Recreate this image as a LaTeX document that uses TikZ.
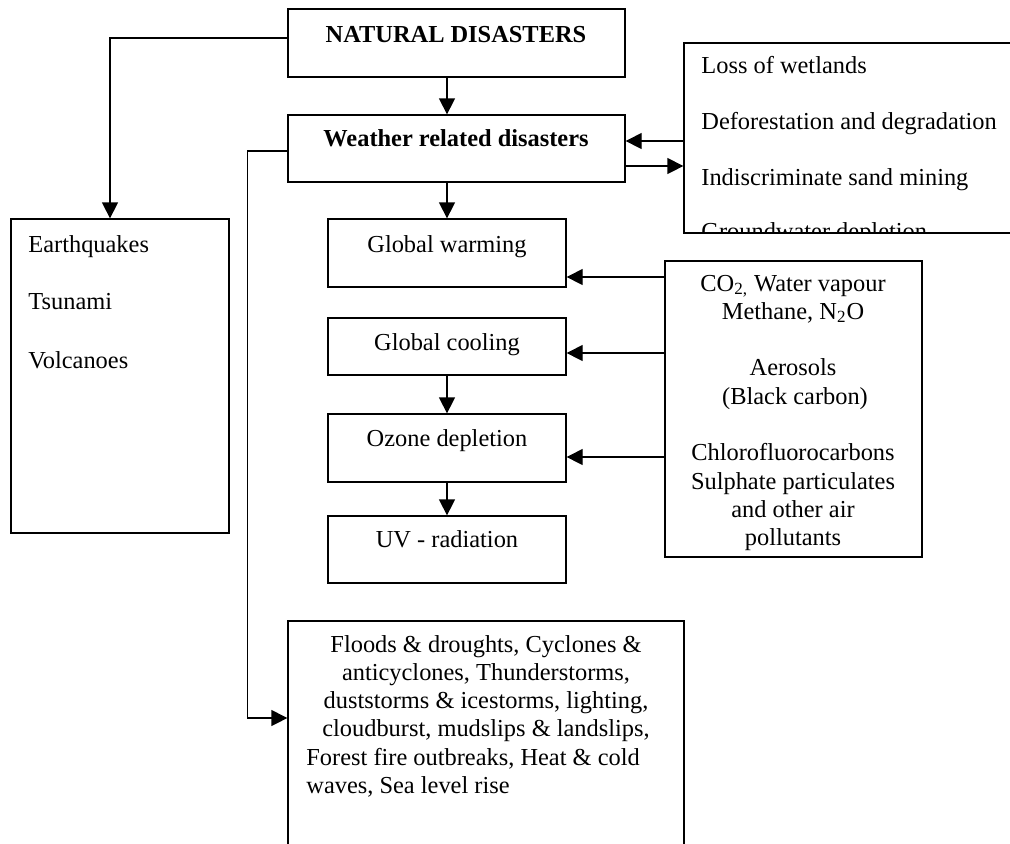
\documentclass[tikz,border=0pt]{standalone}
\usepackage{fontspec}
\setmainfont{Liberation Serif}
\usetikzlibrary{arrows.meta,fit}
\begin{document}
\begin{tikzpicture}[x=0.5pt,y=-0.5pt,
  box/.style={draw,line width=0.65pt,inner sep=0pt,rectangle},
  arr/.style={line width=0.65pt,-{Triangle[length=8pt,width=8pt]}},
  txt/.style={font=\fontsize{12.2}{14}\selectfont,inner sep=0pt,anchor=base},
  ltxt/.style={txt,anchor=base west},
  btxt/.style={txt,font=\fontsize{12.2}{14}\selectfont\bfseries},
]
\useasboundingbox (0,0) rectangle (1010,843);
\clip (0,0) rectangle (1010,843);

% boxes
\node[box,fit={(288,9)(625,77)}] (nat) {};
\node[box,fit={(288,115)(625,182)}] (wx) {};
\node[box,fit={(684,43)(1020,233)}] (rb) {};
\node[box,fit={(11,219)(229,533)}] (eq) {};
\node[box,fit={(328,219)(566,287)}] (gw) {};
\node[box,fit={(328,318)(566,375)}] (gc) {};
\node[box,fit={(328,414)(566,482)}] (oz) {};
\node[box,fit={(328,516)(566,583)}] (uv) {};
\node[box,fit={(665,261)(922,557)}] (co) {};
\node[box,fit={(288,621)(684,870)}] (fl) {};

% texts
\node[btxt] (natT) at (456,42) {NATURAL DISASTERS};
\node[btxt] (wxT) at (456,146) {Weather related disasters};

\node[ltxt] (rb1) at (701,73) {Loss of wetlands};
\node[ltxt] (rb2) at (701,129) {Deforestation and degradation};
\node[ltxt] (rb3) at (701,185) {Indiscriminate sand mining};
\begin{scope}
  \clip (684,43) rectangle (1020,233);
  \node[ltxt] (rb4) at (701,239) {Groundwater depletion};
\end{scope}

\node[ltxt] (eq1) at (28,252) {Earthquakes};
\node[ltxt] (eq2) at (28,309) {Tsunami};
\node[ltxt] (eq3) at (28,368) {Volcanoes};

\node[txt] (gwT) at (447,252) {Global warming};
\node[txt] (gcT) at (447,350) {Global cooling};
\node[txt] (ozT) at (447,446) {Ozone depletion};
\node[txt] (uvT) at (447,547) {UV - radiation};

\foreach \k/\t in {0/{CO\textsubscript{2,} Water vapour},1/{Methane, N\textsubscript{2}O},3/{Aerosols},4/{\,(Black carbon)},6/{Chlorofluorocarbons},7/{Sulphate particulates},8/{and other air},9/{pollutants}}
  \node[txt] (co\k) at (793,291+28.3*\k) {\t};

\foreach \k/\t in {0/{Floods \& droughts, Cyclones \&},1/{anticyclones, Thunderstorms,},2/{duststorms \& icestorms, lighting,},3/{cloudburst, mudslips \& landslips,}}
  \node[txt] (fl\k) at (486,652+28.3*\k) {\t};
\node[ltxt] (fl4) at (306,765) {Forest fire outbreaks, Heat \& cold};
\node[ltxt] (fl5) at (306,793) {waves, Sea level rise};

% connectors
\draw[arr] ([yshift=2.5pt]nat.west) -| ([xshift=-5pt]eq.north);
\draw[arr] ([xshift=-4.75pt]nat.south) -- ([xshift=-4.75pt]wx.north);
\draw[arr] ([yshift=-1.25pt]wx.west) -- ++(-40,0) |- ([yshift=13.75pt]fl.west);
\draw[arr] ([yshift=3.75pt]wx.east -| rb.west) -- ([yshift=3.75pt]wx.east);
\draw[arr] ([yshift=-8.75pt]wx.east) -- ([yshift=-8.75pt]wx.east -| rb.west);
\draw[arr] (gw.north |- wx.south) -- (gw.north);
\draw[arr] ([yshift=-12pt]gw.east -| co.west) -- ([yshift=-12pt]gw.east);
\draw[arr] ([yshift=-3.25pt]gc.east -| co.west) -- ([yshift=-3.25pt]gc.east);
\draw[arr] ([yshift=-4.5pt]oz.east -| co.west) -- ([yshift=-4.5pt]oz.east);
\draw[arr] (gc.south) -- (oz.north);
\draw[arr] (oz.south) -- (uv.north);
\end{tikzpicture}
\end{document}
